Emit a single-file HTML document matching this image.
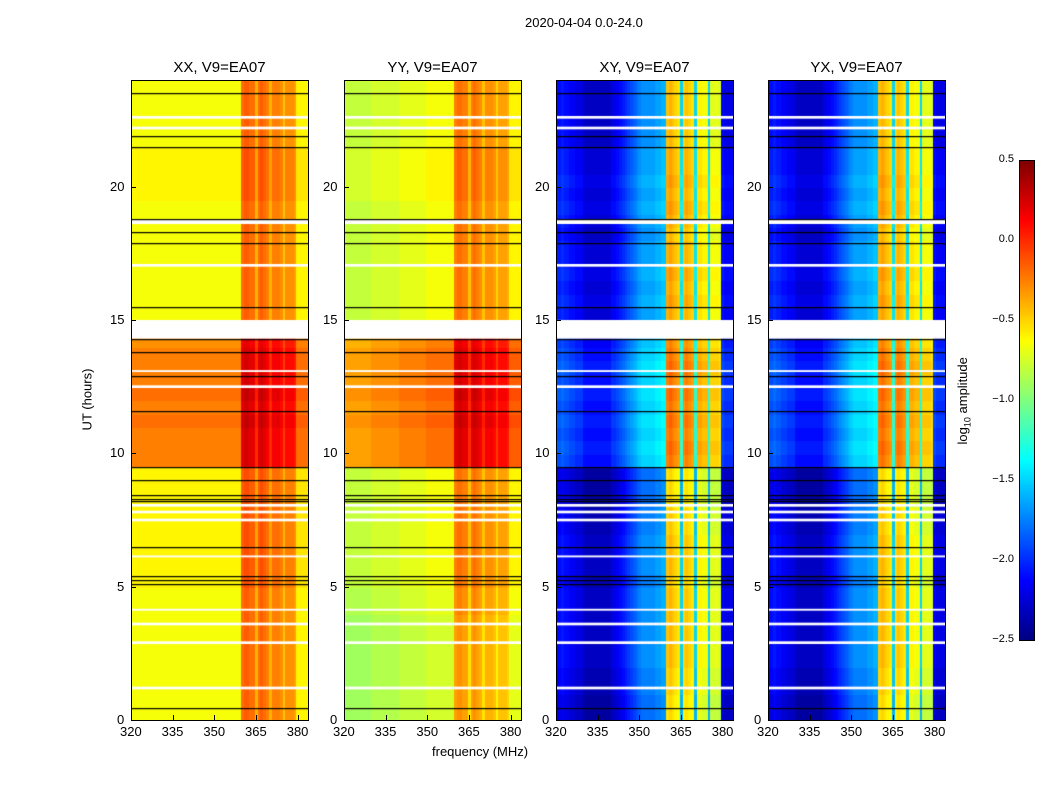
<!DOCTYPE html>
<html><head><meta charset="utf-8"><style>
body{margin:0;background:#fff;width:1050px;height:800px;position:relative;font-family:"Liberation Sans",sans-serif;overflow:hidden}
.t{position:absolute;font-size:13px;color:#000;white-space:nowrap}
.pt{position:absolute;font-size:15px;white-space:nowrap;transform:translateX(-50%)}
canvas{position:absolute}
.frame{position:absolute;border:1px solid #000;box-sizing:border-box;pointer-events:none}
.tk{position:absolute;background:#000}
</style></head><body>
<div class="t" style="left:525px;top:15px">2020-04-04 0.0-24.0</div>
<div class="t" style="left:432px;top:744px">frequency (MHz)</div>
<div class="t" style="left:56px;top:392px;transform:rotate(-90deg)">UT (hours)</div>
<div class="t" style="left:920px;top:392px;transform:rotate(-90deg)">log<sub style="font-size:9px">10</sub> amplitude</div>
<div id="root"></div>
<script>
const freqStart = 320, freqEnd = 383.7, nFreq = 64;
const xTicks = [320,335,350,365,380];
const yTicks = [0,5,10,15,20];
const cbTicks = [0.5,0.0,-0.5,-1.0,-1.5,-2.0,-2.5];
const panelTitles = ["XX, V9=EA07","YY, V9=EA07","XY, V9=EA07","YX, V9=EA07"];
// background level per half hour (0..23.5)
const xxBg = [-0.65,-0.65,-0.65,-0.65,-0.65,-0.65,-0.65,-0.65,-0.65,-0.65,-0.6,-0.6,-0.6,-0.6,-0.6,-0.6,-0.6,-0.6,-0.6,-0.25,-0.25,-0.25,-0.2,-0.25,-0.2,-0.25,-0.25,-0.25,-0.3,-0.65,-0.65,-0.65,-0.65,-0.65,-0.65,-0.65,-0.65,-0.65,-0.65,-0.6,-0.6,-0.6,-0.6,-0.65,-0.65,-0.65,-0.65,-0.65];
const yyBg = [-0.8,-0.8,-0.8,-0.8,-0.8,-0.8,-0.8,-0.8,-0.75,-0.75,-0.7,-0.7,-0.7,-0.7,-0.7,-0.7,-0.7,-0.7,-0.7,-0.25,-0.25,-0.25,-0.2,-0.25,-0.2,-0.25,-0.25,-0.25,-0.3,-0.7,-0.7,-0.7,-0.7,-0.7,-0.7,-0.7,-0.7,-0.7,-0.7,-0.65,-0.65,-0.65,-0.65,-0.7,-0.7,-0.7,-0.7,-0.7];
const xyBg = [-2.4,-2.4,-2.35,-2.35,-2.3,-2.3,-2.3,-2.3,-2.3,-2.3,-2.35,-2.3,-2.3,-2.3,-2.35,-2.35,-2.4,-2.4,-2.4,-2.1,-2.05,-2.1,-2.05,-2.1,-2.05,-2.1,-2.05,-2.1,-2.15,-2.25,-2.25,-2.2,-2.25,-2.2,-2.25,-2.25,-2.3,-2.25,-2.2,-2.25,-2.2,-2.25,-2.25,-2.3,-2.3,-2.3,-2.3,-2.3];
const yxBg = xyBg.slice();
// frequency profile per 1 MHz bin
const xxProf = [0,0,0,0,0,0,0,0,0,0,0,0,0,0,0,0,0,0,0,0,0,0,0,0,0,0,0,0,0,0,0,0,0,0,0,0,0,0,0,0,.45,.5,.5,.45,.45,.25,.45,.5,.45,.4,.25,.4,.4,.4,.35,.2,.35,.35,.35,.3,.05,.05,.05,.05];
const yyProf = [-.1,-.1,-.1,-.1,-.1,-.1,-.1,-.1,-.1,-.1,-.05,-.05,-.05,-.05,-.05,-.05,-.05,-.05,-.05,-.05,0,0,0,0,0,0,0,0,0,0,.05,.05,.05,.05,.05,.05,.05,.05,.05,.05,.45,.5,.5,.45,.45,.25,.45,.5,.45,.4,.25,.4,.4,.4,.35,.2,.35,.35,.35,.3,.1,.1,.1,.1];
const xyProf = [.2,.2,.25,.2,.2,.15,.15,.1,.1,.1,0,0,0,0,0,0,0,0,0,0,.1,.1,.15,.2,.25,.3,.35,.4,.45,.5,.55,.6,.6,.6,.6,.6,.65,.65,.7,.7,1.85,1.9,1.85,1.8,1.75,.8,1.8,1.85,1.8,1.75,.8,1.7,1.7,1.65,1.65,.8,1.6,1.6,1.6,1.55,.15,.1,.1,.1];
const yxProf = xyProf.slice();
const whiteGaps = [[14.3,15.0],[18.6,18.75],[22.15,22.25],[22.55,22.65],[7.45,7.55],[7.75,7.85],[8.0,8.1],[12.45,12.55],[1.15,1.25],[2.85,2.95],[3.55,3.65],[17.0,17.1],[13.05,13.12],[4.1,4.17],[6.1,6.17]];
const blackLines = [0.45,5.1,5.25,5.4,6.5,8.2,8.3,8.45,9.0,9.5,11.6,12.9,13.8,14.3,15.5,17.9,18.3,18.8,21.5,21.9,23.5];
const bgs=[xxBg,yyBg,xyBg,yxBg], profs=[xxProf,yyProf,xyProf,yxProf];
const panelX=[131,344,556,768], PY=80, PW=177, PH=640;
function jet(v){let t=(v+2.5)/3;t=Math.max(0,Math.min(1,t));
 const f=x=>Math.max(0,Math.min(1,x));
 const r=f(1.5-Math.abs(4*t-3)),g=f(1.5-Math.abs(4*t-2)),b=f(1.5-Math.abs(4*t-1));
 return `rgb(${r*255|0},${g*255|0},${b*255|0})`;}
const root=document.getElementById('root');
const fx=f=>(f-freqStart)/(freqEnd-freqStart)*PW;
const hy=h=>PH-h/24*PH;
panelX.forEach((px,p)=>{
 const c=document.createElement('canvas');c.width=PW;c.height=PH;
 c.style.left=px+'px';c.style.top=PY+'px';
 
 
 root.appendChild(c);const g=c.getContext('2d');
 const bg=bgs[p],pr=profs[p];const cw=PW/nFreq,rh=PH/bg.length;
 bg.forEach((b,i)=>pr.forEach((q,j)=>{g.fillStyle=jet(b+q);g.fillRect(Math.floor(j*cw),Math.floor(PH-(i+1)*rh),Math.ceil(cw)+1,Math.ceil(rh)+1);}));
 g.fillStyle='#fff';whiteGaps.forEach(([a,b])=>g.fillRect(0,hy(b),PW,Math.max(1.5,hy(a)-hy(b))));
 g.fillStyle='#000';blackLines.forEach(h=>g.fillRect(0,Math.round(hy(h)),PW,1.2));
 const fr=document.createElement('div');fr.className='frame';
 
 
 fr.style.cssText=`left:${px}px;top:${PY}px;width:${PW+1}px;height:${PH+1}px`;root.appendChild(fr);
 const tt=document.createElement('div');tt.className='pt';tt.textContent=panelTitles[p];
 
 
 tt.style.left=(px+PW/2)+'px';tt.style.top='59px';root.appendChild(tt);
 xTicks.forEach(f=>{const x=px+fx(f);
  const k=document.createElement('div');k.className='tk';k.style.cssText=`left:${x}px;top:${PY+PH-5}px;width:1px;height:5px`;
  
  root.appendChild(k);
  const l=document.createElement('div');l.className='t';l.textContent=f;l.style.left=(x-11)+'px';l.style.top=(PY+PH+4)+'px';
  
  root.appendChild(l);});
 yTicks.forEach(h=>{const y=PY+hy(h);
  const k=document.createElement('div');k.className='tk';k.style.cssText=`left:${px}px;top:${y}px;width:5px;height:1px`;
  
  root.appendChild(k);
  const l=document.createElement('div');l.className='t';l.textContent=h;l.style.left=(px-6-(h>=10?15:8))+'px';l.style.top=(y-8)+'px';
  
  root.appendChild(l);});
});
// colorbar
const cb=document.createElement('canvas');cb.width=15;cb.height=480;cb.style.left='1019px';cb.style.top='160px';


root.appendChild(cb);const cg=cb.getContext('2d');
for(let i=0;i<480;i++){cg.fillStyle=jet(0.5-3*i/480);cg.fillRect(0,i,15,1);}
const cf=document.createElement('div');cf.className='frame';cf.style.cssText='left:1019px;top:160px;width:16px;height:481px';

root.appendChild(cf);
cbTicks.forEach(v=>{const y=160+(0.5-v)/3*480;
 const l=document.createElement('div');l.className='t';l.style.fontSize='11px';
 l.textContent=(v<0?'\u2212':'')+Math.abs(v).toFixed(1);l.style.right=(1050-1014)+'px';l.style.top=(y-7)+'px';
 
 root.appendChild(l);});
</script>
</body></html>
